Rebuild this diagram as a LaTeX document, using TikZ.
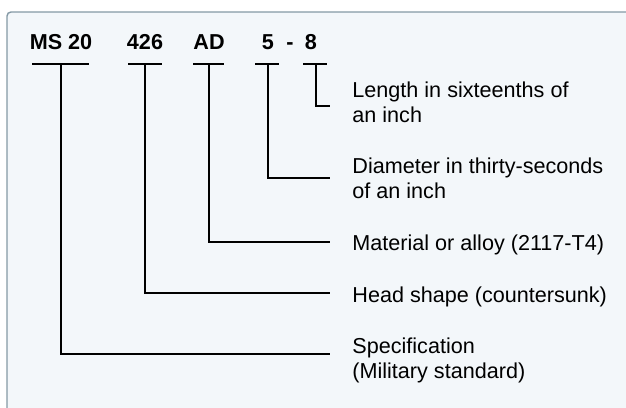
\documentclass[tikz,border=0pt]{standalone}
\usepackage{fontspec}
\setmainfont{Liberation Sans}
\definecolor{panelfill}{HTML}{F3F7FA}
\definecolor{paneledge}{HTML}{8499A5}

\begin{document}
\begin{tikzpicture}[
  x=0.5pt, y=-0.5pt,
  line join=miter,
  lead/.style={line width=1.4pt},
  code/.style={font=\fontsize{10.8}{12.5}\selectfont\bfseries, inner sep=0pt, anchor=base},
  desc/.style={font=\fontsize{10.8}{12.5}\selectfont, align=left, inner sep=0pt, anchor=base west},
]

% ── the panel, running off the right and bottom edges ────────────────────
\path[use as bounding box] (0,0) rectangle (626,407);
\fill[panelfill, rounded corners=2pt] (7,430) -- (7,12) -- (650,12) -- (650,430) -- cycle;
\draw[paneledge, line width=0.7pt, rounded corners=2pt] (7,430) -- (7,12) -- (650,12);

% ── the part number, piece by piece ──────────────────────────────────────
\node[code] (ms)   at (61,49)  {MS 20};
\node[code] (head) at (145,49) {426};
\node[code] (mat)  at (209,49) {AD};
\node[code] (dia)  at (268,49) {5};
\node[code] (dash) at (290,49) {-};
\node[code] (len)  at (311,49) {8};

% bars under each piece
\draw[lead] (32,64) -- (89,64);
\draw[lead] (128,64) -- (162,64);
\draw[lead] (193,64) -- (224,64);
\draw[lead] (255,64) -- (279,64);
\draw[lead] (303,64) -- (327,64);

\coordinate (ms-bar)   at (61,64);
\coordinate (head-bar) at (145,64);
\coordinate (mat-bar)  at (209,64);
\coordinate (dia-bar)  at (268,64);
\coordinate (len-bar)  at (316,64);

% ── what each piece means (base is the last line) ────────────────────────
\node[desc] (len-txt)  at (352,122) {Length in sixteenths of\\an inch};
\node[desc] (dia-txt)  at (352,198) {Diameter in thirty-seconds\\of an inch};
\node[desc] (mat-txt)  at (352,250) {Material or alloy (2117-T4)};
\node[desc] (head-txt) at (352,302) {Head shape (countersunk)};
\node[desc] (ms-txt)   at (352,378) {Specification\\(Military standard)};

\coordinate (len-end)  at (330,106);
\coordinate (dia-end)  at (330,178);
\coordinate (mat-end)  at (330,242);
\coordinate (head-end) at (330,293);
\coordinate (ms-end)   at (330,354);

% ── leaders, down and across ─────────────────────────────────────────────
\draw[lead] (len-bar)  |- (len-end);
\draw[lead] (dia-bar)  |- (dia-end);
\draw[lead] (mat-bar)  |- (mat-end);
\draw[lead] (head-bar) |- (head-end);
\draw[lead] (ms-bar)   |- (ms-end);

\end{tikzpicture}
\end{document}
